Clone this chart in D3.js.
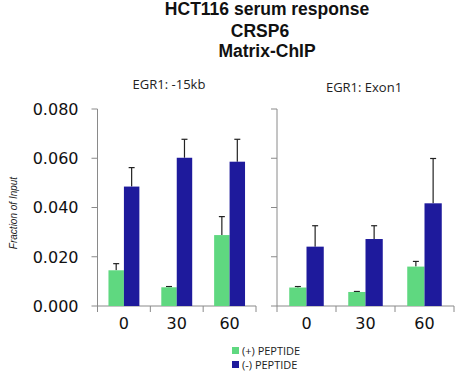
<!DOCTYPE html>
<html><head><meta charset="utf-8">
<script src="https://cdn.jsdelivr.net/npm/d3@7"></script>
<style>body{margin:0;background:#fff}svg{display:block}</style>
</head><body>
<svg id="c" width="465" height="384"></svg>
<script>
const categories = ["0", "30", "60"];
const seriesNames = ["(+) PEPTIDE", "(-) PEPTIDE"];
const panelTitles = ["EGR1: -15kb", "EGR1: Exon1"];
// panel 1: EGR1 -15kb
const p1Plus = [0.0145, 0.0076, 0.0288];
const p1PlusErr = [0.0027, 0.0003, 0.0075];
const p1Minus = [0.0485, 0.0602, 0.0586];
const p1MinusErr = [0.0077, 0.0075, 0.0091];
// panel 2: EGR1 Exon1
const p2Plus = [0.0075, 0.0057, 0.0160];
const p2PlusErr = [0.0004, 0.0002, 0.0021];
const p2Minus = [0.0241, 0.0272, 0.0417];
const p2MinusErr = [0.0085, 0.0054, 0.0182];
const yTicks = [0, 0.02, 0.04, 0.06, 0.08];
const colors = ["#5fd880", "#1e1a9c"];

const svg = d3.select("#c");
const y = d3.scaleLinear().domain([0, 0.08]).range([306, 109]);

function panel(x0, x1, plus, plusErr, minus, minusErr, title, tx, ty, showLabels) {
  const g = svg.append("g");
  const x = d3.scaleBand().domain(categories).range([x0, x1]).paddingInner(0.415).paddingOuter(0.2075);
  const xs = d3.scaleBand().domain([0, 1]).range([0, x.bandwidth()]);
  const data = [];
  categories.forEach((c, i) => {
    data.push({c, s: 0, v: plus[i], e: plusErr[i]});
    data.push({c, s: 1, v: minus[i], e: minusErr[i]});
  });
  g.append("line").attr("x1", x0).attr("x2", x0).attr("y1", y(0.08)).attr("y2", y(0)).attr("stroke", "#8a8a8a");
  g.append("line").attr("x1", x0).attr("x2", x1).attr("y1", y(0)).attr("y2", y(0)).attr("stroke", "#8a8a8a");
  yTicks.forEach(t => {
    g.append("line").attr("x1", x0 - 6).attr("x2", x0).attr("y1", y(t)).attr("y2", y(t)).attr("stroke", "#8a8a8a");
    if (showLabels) g.append("text").attr("x", x0 - 19).attr("y", y(t)).attr("dy", "0.36em")
      .attr("text-anchor", "end").attr("font-family", "DejaVu Sans").attr("font-size", 16).attr("fill", "#111").text(d3.format(".3f")(t));
  });
  const bounds = [x0].concat(categories.map(c => x(c) + x.bandwidth() + x.step() * x.paddingInner() / 2));
  bounds.forEach(b => g.append("line").attr("x1", b).attr("x2", b).attr("y1", y(0)).attr("y2", y(0) + 6).attr("stroke", "#8a8a8a"));
  categories.forEach(c => g.append("text").attr("x", x(c) + x.bandwidth() / 2).attr("y", 329)
    .attr("text-anchor", "middle").attr("font-family", "DejaVu Sans").attr("font-size", 16).attr("fill", "#111").text(c));
  data.forEach(d => {
    const cx = x(d.c) + xs(d.s) + xs.bandwidth() / 2;
    g.append("line").attr("x1", cx).attr("x2", cx).attr("y1", y(d.v)).attr("y2", y(d.v + d.e)).attr("stroke", "#222").attr("stroke-width", 1.2);
    g.append("line").attr("x1", cx - 3).attr("x2", cx + 3).attr("y1", y(d.v + d.e)).attr("y2", y(d.v + d.e)).attr("stroke", "#222").attr("stroke-width", 1.2);
  });
  g.selectAll("rect").data(data).join("rect")
    .attr("x", d => x(d.c) + xs(d.s)).attr("width", xs.bandwidth())
    .attr("y", d => y(d.v)).attr("height", d => y(0) - y(d.v))
    .attr("fill", d => colors[d.s]);
  svg.append("text").attr("x", tx).attr("y", ty).attr("text-anchor", "middle")
    .attr("font-family", "Open Sans").attr("font-size", 13).attr("fill", "#222").text(title);
}

panel(97.5, 256, p1Plus, p1PlusErr, p1Minus, p1MinusErr, panelTitles[0], 169, 89, true);
panel(277, 454, p2Plus, p2PlusErr, p2Minus, p2MinusErr, panelTitles[1], 364, 92, false);

[["HCT116 serum response", 267, 15], ["CRSP6", 260, 37], ["Matrix-ChIP", 267, 57]].forEach(t => {
  svg.append("text").attr("x", t[1]).attr("y", t[2]).attr("text-anchor", "middle")
    .attr("font-family", "Liberation Sans, Arial").attr("font-weight", "bold").attr("font-size", 17.5).attr("fill", "#111").text(t[0]);
});
svg.append("text").attr("transform", "translate(17,213) rotate(-90)").attr("text-anchor", "middle")
  .attr("font-family", "Liberation Sans, Arial").attr("font-style", "italic").attr("font-size", 10).attr("fill", "#222").text("Fraction of Input");

seriesNames.forEach((n, i) => {
  svg.append("rect").attr("x", 232).attr("y", 347 + i * 14).attr("width", 7).attr("height", 7).attr("fill", colors[i]);
  svg.append("text").attr("x", 242).attr("y", 354.5 + i * 14).attr("font-family", "Open Sans")
    .attr("font-size", 11).attr("fill", "#222").text(n);
});
</script>
</body></html>
